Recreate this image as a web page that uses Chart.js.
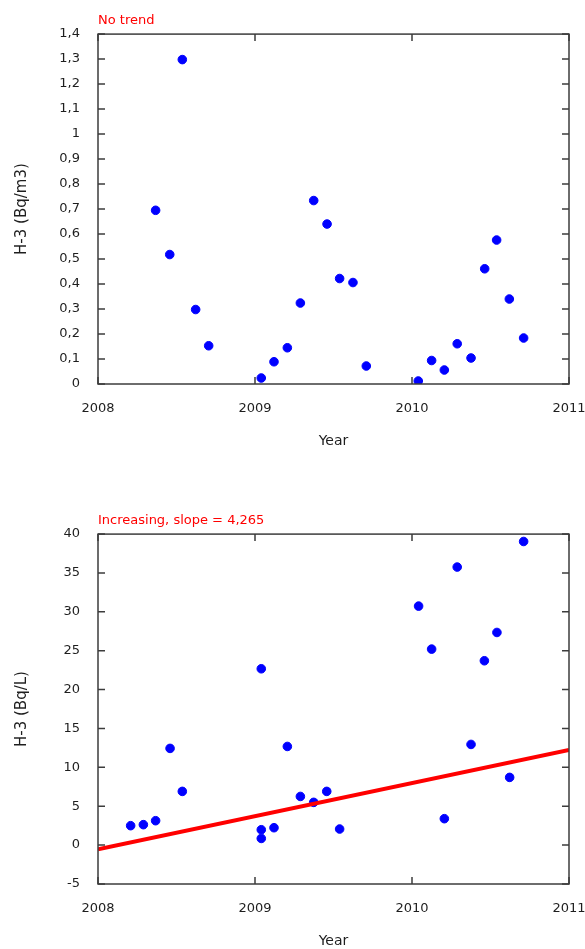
<!DOCTYPE html>
<html>
<head>
<meta charset="utf-8">
<script src="https://cdn.jsdelivr.net/npm/chart.js@4"></script>
<style>
  html, body { margin: 0; padding: 0; background: #fff; overflow: hidden; }
  canvas { display: block; }
</style>
</head>
<body>
<canvas id="airChart" width="585" height="500"></canvas>
<canvas id="waterChart" width="585" height="500"></canvas>
<script>
// H-3 in air (Bq/m3)
const airYears = [2008.367, 2008.457, 2008.537, 2008.622, 2008.705, 2009.040, 2009.121, 2009.206,
    2009.289, 2009.374, 2009.459, 2009.539, 2009.624, 2009.709, 2010.040, 2010.125, 2010.206,
    2010.288, 2010.376, 2010.463, 2010.539, 2010.620, 2010.711];
const airValues = [0.695, 0.518, 1.298, 0.298, 0.153, 0.024, 0.089, 0.145, 0.324, 0.734, 0.640,
    0.422, 0.406, 0.072, 0.012, 0.094, 0.056, 0.161, 0.104, 0.461, 0.576, 0.340, 0.184];
const airTickLabels = ["0", "0,1", "0,2", "0,3", "0,4", "0,5", "0,6", "0,7", "0,8", "0,9", "1",
    "1,1", "1,2", "1,3", "1,4"];

// H-3 in water (Bq/L)
const waterYears = [2008.208, 2008.289, 2008.367, 2008.459, 2008.537, 2009.040, 2009.040, 2009.040,
    2009.121, 2009.206, 2009.289, 2009.374, 2009.457, 2009.539, 2010.042, 2010.125, 2010.206,
    2010.288, 2010.376, 2010.461, 2010.541, 2010.622, 2010.711];
const waterValues = [2.50, 2.63, 3.14, 12.44, 6.91, 22.68, 1.98, 0.86, 2.24, 12.69, 6.26, 5.50,
    6.91, 2.07, 30.74, 25.21, 3.40, 35.76, 12.95, 23.71, 27.35, 8.71, 39.05];
const waterTickLabels = ["-5", "0", "5", "10", "15", "20", "25", "30", "35", "40"];

// trend line ends
const trendYears = [2008, 2011];
const trendValues = [-0.55, 12.25];

const yearTickLabels = ["2008", "2009", "2010", "2011"];

const FONT = "'DejaVu Sans', sans-serif";
const TICK_LEN = 7;

// box round the plot with inward tick marks on all four sides
const boxTicks = {
    id: 'boxTicks',
    afterDraw(chart) {
        const {ctx, chartArea: a} = chart;
        const xs = chart.scales.x, ys = chart.scales.y;
        ctx.save();
        ctx.strokeStyle = '#3c3c3c';
        ctx.lineWidth = 1.5;
        ctx.beginPath();
        xs.ticks.forEach(t => {
            const px = xs.getPixelForValue(t.value);
            ctx.moveTo(px, a.bottom); ctx.lineTo(px, a.bottom - TICK_LEN);
            ctx.moveTo(px, a.top); ctx.lineTo(px, a.top + TICK_LEN);
        });
        ys.ticks.forEach(t => {
            const py = ys.getPixelForValue(t.value);
            ctx.moveTo(a.left, py); ctx.lineTo(a.left + TICK_LEN, py);
            ctx.moveTo(a.right, py); ctx.lineTo(a.right - TICK_LEN, py);
        });
        ctx.stroke();
        ctx.strokeRect(a.left, a.top, a.right - a.left, a.bottom - a.top);
        ctx.restore();
    }
};

function makeOptions(title, yTitle, yMin, yMax, yStep, yLabels) {
    return {
        responsive: false,
        animation: false,
        layout: { padding: { left: 0, right: 16, top: 0, bottom: 0 } },
        plugins: {
            legend: { display: false },
            tooltip: { enabled: false },
            title: {
                display: true,
                text: title,
                color: '#ff0000',
                align: 'start',
                fullSize: false,
                font: { family: FONT, size: 13, weight: 'normal' },
                padding: { top: 13, bottom: 5.5 }
            }
        },
        scales: {
            x: {
                type: 'linear',
                min: 2008,
                max: 2011,
                grid: { display: false, drawTicks: false },
                border: { display: false },
                ticks: {
                    stepSize: 1,
                    padding: 17,
                    color: '#1e1e1e',
                    font: { family: FONT, size: 13 },
                    callback: (v, i) => yearTickLabels[i]
                },
                title: {
                    display: true,
                    text: 'Year',
                    color: '#1e1e1e',
                    font: { family: FONT, size: 14 },
                    padding: { top: 0, bottom: 50 }
                },
                afterFit(scale) {
                    scale.height = 116;
                    scale.paddingLeft = 0;
                    scale.paddingRight = 0;
                }
            },
            y: {
                type: 'linear',
                min: yMin,
                max: yMax,
                grid: { display: false, drawTicks: false },
                border: { display: false },
                ticks: {
                    stepSize: yStep,
                    padding: 18,
                    color: '#1e1e1e',
                    font: { family: FONT, size: 13 },
                    callback: (v, i) => yLabels[i]
                },
                title: {
                    display: true,
                    text: yTitle,
                    color: '#1e1e1e',
                    font: { family: FONT, size: 15 },
                    padding: { top: 13, bottom: 0 }
                },
                afterFit(scale) { scale.width = 98; }
            }
        }
    };
}

function points(xs, ys) {
    return xs.map((x, i) => ({ x: x, y: ys[i] }));
}

const dotStyle = {
    backgroundColor: '#0000ff',
    borderColor: '#0000ff',
    pointRadius: 4.3,
    borderWidth: 1
};

new Chart(document.getElementById('airChart'), {
    type: 'scatter',
    data: {
        datasets: [Object.assign({ label: 'H-3 air', data: points(airYears, airValues) }, dotStyle)]
    },
    options: makeOptions('No trend', 'H-3 (Bq/m3)', 0, 1.4, 0.1, airTickLabels),
    plugins: [boxTicks]
});

new Chart(document.getElementById('waterChart'), {
    type: 'scatter',
    data: {
        datasets: [
            Object.assign({ label: 'H-3 water', data: points(waterYears, waterValues), order: 2 }, dotStyle),
            {
                type: 'line',
                label: 'Trend',
                data: points(trendYears, trendValues),
                borderColor: '#ff0000',
                borderWidth: 4,
                pointRadius: 0,
                fill: false,
                order: 1
            }
        ]
    },
    options: makeOptions('Increasing, slope = 4,265', 'H-3 (Bq/L)', -5, 40, 5, waterTickLabels),
    plugins: [boxTicks]
});
</script>
</body>
</html>
